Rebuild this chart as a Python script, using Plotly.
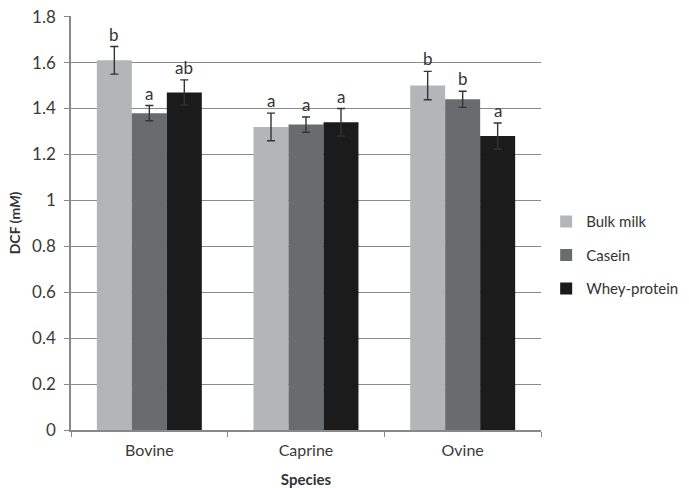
import plotly.graph_objects as go

species = ["Bovine", "Caprine", "Ovine"]
series_names = ["Bulk milk", "Casein", "Whey-protein"]
bulk_milk = [1.61, 1.32, 1.50]
casein = [1.38, 1.33, 1.44]
whey = [1.47, 1.34, 1.28]
bulk_err = [0.06, 0.06, 0.062]
casein_err = [0.033, 0.033, 0.035]
whey_err = [0.055, 0.06, 0.057]
bulk_letters = ["b", "a", "b"]
casein_letters = ["a", "a", "b"]
whey_letters = ["ab", "a", "a"]
y_ticks = [0, 0.2, 0.4, 0.6, 0.8, 1, 1.2, 1.4, 1.6, 1.8]

colors = ["#b3b6b9", "#696c6f", "#1b1b1b"]
values = [bulk_milk, casein, whey]
errs = [bulk_err, casein_err, whey_err]
letters = [bulk_letters, casein_letters, whey_letters]

FONT = "Lato, 'Open Sans', sans-serif"
fig = go.Figure()
for i, name in enumerate(series_names):
    fig.add_trace(go.Bar(
        name=name, x=species, y=values[i], marker_color=colors[i],
        marker_line_width=0, legendgroup=name,
        error_y=dict(type="data", array=errs[i], color="#333333", thickness=1.4, width=4),
    ))

bargap = 0.33
bw = (1 - bargap) / 3
for i in range(3):
    for j in range(3):
        fig.add_annotation(
            x=j + (i - 1) * bw, y=values[i][j] + errs[i][j], text=letters[i][j],
            showarrow=False, yanchor="bottom", yshift=0,
            font=dict(family=FONT, size=17, color="#333333"),
        )

fig.update_layout(
    width=689, height=488, barmode="group", bargap=bargap, bargroupgap=0,
    plot_bgcolor="white", paper_bgcolor="white",
    margin=dict(l=71, r=148, t=16, b=58, autoexpand=False),
    font=dict(family=FONT, size=16, color="#3a3a3a"),
    legend=dict(x=1.011, y=0.422, xanchor="left", yanchor="middle",
                traceorder="grouped", tracegroupgap=11,
                font=dict(size=15, color="#333333"), itemwidth=30),
    xaxis=dict(type="category", tickson="boundaries", ticks="outside", ticklen=5,
               tickcolor="#888888", showline=True, linecolor="#888888", linewidth=1.5,
               automargin=False, ticklabelstandoff=5,
               title=dict(text="<b>Species</b>", standoff=18, font=dict(size=15, color="#333333")),
               tickfont=dict(size=16, color="#3a3a3a")),
    yaxis=dict(range=[0, 1.803], tickvals=y_ticks, ticktext=[f"{v:g}" for v in y_ticks],
               ticks="outside", ticklen=5, tickcolor="#888888", automargin=False,
               showline=True, linecolor="#888888", linewidth=1.5, ticklabelstandoff=5,
               showgrid=True, gridcolor="#8a8a8a", gridwidth=1.3, zeroline=False,
               title=dict(text="<b>DCF (m<i>M</i>)</b>", standoff=8, font=dict(size=14, color="#333333")),
               tickfont=dict(size=17, color="#3a3a3a")),
)
fig.write_html("out.html", config={"displayModeBar": False},
               post_script="document.body.style.margin='0';")
